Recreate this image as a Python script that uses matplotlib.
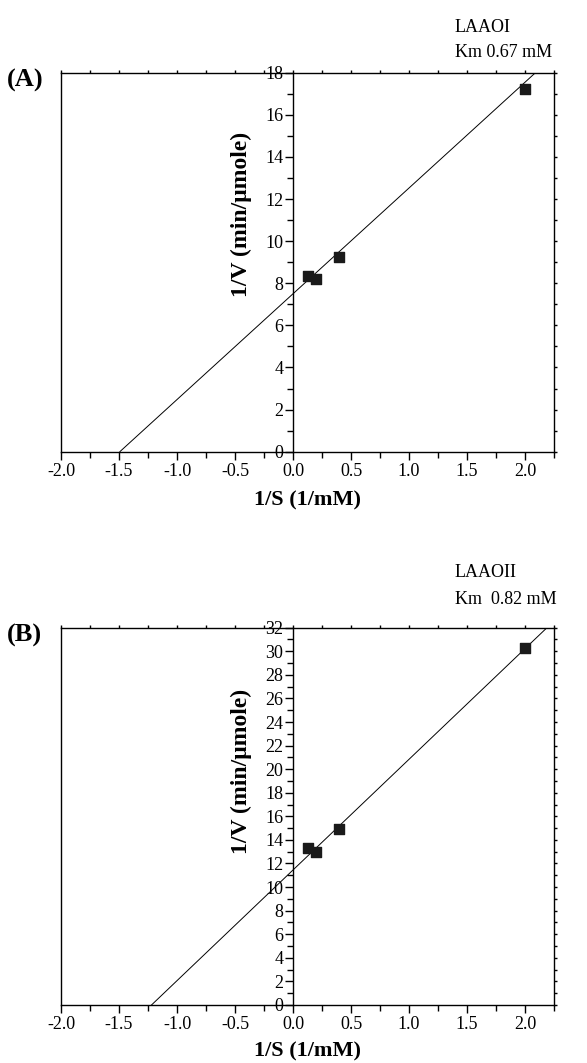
import numpy as np
import matplotlib
matplotlib.use("Agg")
import matplotlib.pyplot as plt
from matplotlib.ticker import MultipleLocator, FormatStrFormatter

plt.rcParams['font.family'] = ['Liberation Serif', 'DejaVu Serif']

# Lineweaver-Burk data: 1/S (1/mM) and 1/V (min/umole)
inv_s = [0.125, 0.2, 0.4, 2.0]
inv_v_laao1 = [8.35, 8.22, 9.27, 17.23]
inv_v_laao2 = [13.34, 12.95, 14.9, 30.3]

# Fit parameters: Km (mM) and y-intercept 1/Vmax
km_laao1 = 0.67
km_laao2 = 0.82
y0_laao1 = 7.5
y0_laao2 = 11.45

panels = [
    dict(rect=[0.1039, 0.5751, 0.840, 0.3565], ylim=18, y=inv_v_laao1,
         km=km_laao1, y0=y0_laao1, tag="(A)", name="LAAOI",
         km_text="Km 0.67 mM", name_dy=0.043, km_dy=0.019, ylab_y=0.625,
         xpad=8),
    dict(rect=[0.1039, 0.0546, 0.840, 0.3549], ylim=32, y=inv_v_laao2,
         km=km_laao2, y0=y0_laao2, tag="(B)", name="LAAOII",
         km_text="Km  0.82 mM", name_dy=0.052, km_dy=0.027, ylab_y=0.62,
         xpad=6),
]

fig = plt.figure(figsize=(5.87, 10.63), dpi=100)

for p in panels:
    ax = fig.add_axes(p['rect'])
    ax.set_xlim(-2.0, 2.25)
    ax.set_ylim(0, p['ylim'])

    # fitted line: 1/V = (Km/Vmax)(1/S) + 1/Vmax
    slope = p['km'] * p['y0']
    xs = np.array([-1.0 / p['km'], 2.25])
    ax.plot(xs, slope * xs + p['y0'], color='black', lw=0.7)
    ax.scatter(inv_s, p['y'], marker='s', s=60, color='#1a1a1a', zorder=3)

    # y axis drawn through x = 0, frame closed at x = -2
    ax.spines['left'].set_position(('data', 0))
    ax.axvline(-2.0, color='black', lw=1.0, clip_on=False)
    for s in ax.spines.values():
        s.set_linewidth(1.0)

    ax.xaxis.set_major_locator(MultipleLocator(0.5))
    ax.xaxis.set_minor_locator(MultipleLocator(0.25))
    ax.xaxis.set_major_formatter(FormatStrFormatter('%.1f'))
    ax.yaxis.set_major_locator(MultipleLocator(2))
    ax.yaxis.set_minor_locator(MultipleLocator(1))

    ax.tick_params(axis='x', which='major', direction='out', length=6,
                   width=1.0, labelsize=13, pad=2, top=True)
    ax.tick_params(axis='x', which='minor', direction='out', length=4,
                   width=1.0, top=True)
    ax.tick_params(axis='y', which='major', direction='out', length=6,
                   width=1.0, labelsize=13, pad=1, right=True)
    ax.tick_params(axis='y', which='minor', direction='out', length=4,
                   width=1.0, right=True)
    # tiny ticks on the opposite edges
    for t in ax.xaxis.get_major_ticks() + ax.xaxis.get_minor_ticks():
        t.tick2line.set_markersize(2)
    for t in ax.yaxis.get_major_ticks() + ax.yaxis.get_minor_ticks():
        t.tick2line.set_markersize(2)

    ax.set_xlabel("1/S (1/mM)", fontsize=16, fontweight='bold',
                  labelpad=p['xpad'])
    ax.set_ylabel("1/V (min/μmole)", fontsize=17, fontweight='bold')
    ax.yaxis.set_label_coords(0.387, p['ylab_y'])

    bb = p['rect']
    top = bb[1] + bb[3]
    fig.text(0.012, top - 0.007, p['tag'], fontsize=19, fontweight='bold',
             ha='left', va='center')
    fig.text(0.775, top + p['name_dy'], p['name'], fontsize=13, ha='left',
             va='center')
    fig.text(0.775, top + p['km_dy'], p['km_text'], fontsize=13, ha='left',
             va='center')

fig.savefig("out.png", dpi=100)
